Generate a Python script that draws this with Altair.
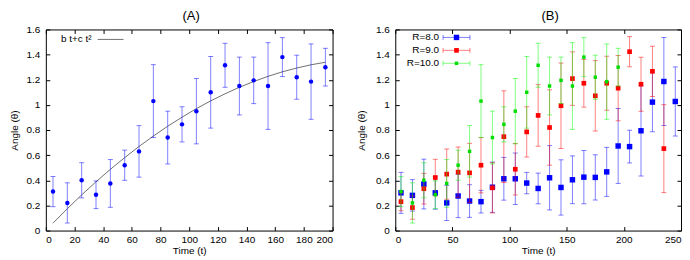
import altair as alt
import pandas as pd

FONT = "Liberation Sans"

# ---------------- data ----------------
times_A = [5, 15, 25, 35, 45, 55, 65, 75, 85, 95, 105, 115, 125, 135, 145, 155, 165, 175, 185, 195]
angle_A = [0.31, 0.22, 0.40, 0.285, 0.375, 0.52, 0.63, 1.03, 0.74, 0.845, 0.95, 1.10, 1.315, 1.15, 1.195, 1.15, 1.38, 1.22, 1.185, 1.30]
err_A = [0.12, 0.16, 0.14, 0.11, 0.19, 0.12, 0.205, 0.29, 0.21, 0.14, 0.26, 0.285, 0.175, 0.23, 0.185, 0.345, 0.155, 0.175, 0.30, 0.15]

fit_label = "b t+c t\u00b2"
fit_t = [5, 15, 25, 35, 45, 55, 65, 75, 85, 95, 105, 115, 125, 135, 145, 155, 165, 175, 185, 195]
fit_v = [0.059, 0.174, 0.284, 0.388, 0.487, 0.580, 0.669, 0.752, 0.830, 0.902, 0.970, 1.032, 1.088, 1.140, 1.186, 1.227, 1.263, 1.293, 1.319, 1.339]

times_R8 = [5, 15, 25, 35, 45, 55, 65, 75, 85, 95, 105, 115, 125, 135, 145, 155, 165, 175, 185, 195, 205, 215, 225, 235, 245]
angle_R8 = [0.30, 0.28, 0.37, 0.30, 0.22, 0.275, 0.235, 0.23, 0.345, 0.412, 0.412, 0.378, 0.335, 0.42, 0.343, 0.404, 0.425, 0.423, 0.467, 0.673, 0.668, 0.794, 1.022, 1.186, 1.027]
err_R8 = [0.163, 0.125, 0.198, 0.13, 0.14, 0.172, 0.13, 0.09, 0.2, 0.17, 0.205, 0.085, 0.122, 0.256, 0.22, 0.19, 0.212, 0.18, 0.195, 0.298, 0.13, 0.36, 0.235, 0.35, 0.275]

times_R9 = [5, 15, 25, 35, 45, 55, 65, 75, 85, 95, 105, 115, 125, 135, 145, 155, 165, 175, 185, 195, 205, 215, 225, 235]
angle_R9 = [0.23, 0.183, 0.333, 0.422, 0.449, 0.465, 0.459, 0.52, 0.34, 0.747, 0.488, 0.785, 0.916, 0.82, 0.993, 1.209, 1.172, 1.072, 1.172, 1.133, 1.423, 1.164, 1.267, 0.652]
err_R9 = [0.073, 0.093, 0.122, 0.145, 0.2, 0.2, 0.235, 0.22, 0.2, 0.365, 0.205, 0.2, 0.245, 0.3, 0.34, 0.213, 0.19, 0.28, 0.215, 0.26, 0.12, 0.215, 0.2, 0.35]

times_R10 = times_A
angle_R10 = angle_A
err_R10 = err_A

series_labels = ["R=8.0", "R=9.0", "R=10.0"]
series_colors = ["#0000ff", "#ff0000", "#00ff00"]
marker_colors = ["#0000ff", "#ff0000", "#00dd00"]

y_ticks = [0, 0.2, 0.4, 0.6, 0.8, 1.0, 1.2, 1.4, 1.6]
x_ticks_A = [0, 20, 40, 60, 80, 100, 120, 140, 160, 180, 200]
x_ticks_B = [0, 50, 100, 150, 200, 250]

# ---------------- layout ----------------
WA, WB, H = 288, 287, 202


def frame(t, v, e):
    return pd.DataFrame({"t": t, "v": v,
                         "lo": [a - b for a, b in zip(v, e)],
                         "hi": [a + b for a, b in zip(v, e)]})


def axes(width, xmax, xticks, title_pad_y):
    xax = alt.Axis(values=xticks, gridDash=[4, H - 8, 4, 400], labelPadding=4,
                   titlePadding=1)
    yax = alt.Axis(values=y_ticks, format="~g", gridDash=[4, width - 8, 4, 400],
                   labelPadding=6, titlePadding=title_pad_y)
    xs = alt.Scale(domain=[0, xmax], nice=False, zero=False)
    ys = alt.Scale(domain=[0, 1.6], nice=False, zero=False)
    return xax, yax, xs, ys


def series_layers(df, color, mcolor, shape, msize, X, Y):
    base = alt.Chart(df)
    bars = base.mark_rule(color=color, opacity=0.5, strokeWidth=1).encode(
        x=X("t"), y=Y("lo"), y2="hi:Q")
    cap_lo = base.mark_tick(color=color, opacity=0.5, orient="horizontal",
                            size=5, thickness=1).encode(x=X("t"), y=Y("lo"))
    cap_hi = base.mark_tick(color=color, opacity=0.5, orient="horizontal",
                            size=5, thickness=1).encode(x=X("t"), y=Y("hi"))
    pts = base.mark_point(shape=shape, filled=True, size=msize, color=mcolor,
                          opacity=1, strokeWidth=0).encode(x=X("t"), y=Y("v"))
    return [bars, cap_lo, cap_hi, pts]


def make_XY(xax, yax, xs, ys):
    def X(f):
        return alt.X(f + ":Q", scale=xs, axis=xax, title="Time (t)")

    def Y(f):
        return alt.Y(f + ":Q", scale=ys, axis=yax, title="Angle (\u03b8)")
    return X, Y


# ---------------- panel A ----------------
xax, yax, xs, ys = axes(WA, 200, x_ticks_A, 7)
X, Y = make_XY(xax, yax, xs, ys)

dfA = frame(times_A, angle_A, err_A)
fit_df = pd.DataFrame({"t": fit_t, "v": fit_v})

layersA = []
layersA.append(alt.Chart(fit_df).mark_line(color="#707070", strokeWidth=1).encode(
    x=X("t"), y=Y("v")))
layersA += series_layers(dfA, "#0000ff", "#0000ff", "circle", 20, X, Y)

legA = alt.Chart(pd.DataFrame({"label": [fit_label]}))
layersA.append(legA.mark_text(align="right", baseline="middle", font=FONT,
                              fontSize=10, color="black").encode(
    x=alt.value(46), y=alt.value(10), text="label:N"))
layersA.append(legA.mark_rule(color="#707070", strokeWidth=1).encode(
    x=alt.value(52), x2=alt.value(78), y=alt.value(10)))

panelA = alt.layer(*layersA).properties(
    width=WA, height=H,
    title=alt.TitleParams("(A)", dx=2))

# ---------------- panel B ----------------
xax, yax, xs, ys = axes(WB, 250, x_ticks_B, 9)
X, Y = make_XY(xax, yax, xs, ys)

dfs = [frame(times_R8, angle_R8, err_R8),
       frame(times_R9, angle_R9, err_R9),
       frame(times_R10, angle_R10, err_R10)]
sizes = [30, 22, 12]

layersB = []
for i in range(3):
    layersB += series_layers(dfs[i], series_colors[i], marker_colors[i], "square",
                             sizes[i], X, Y)

for i in range(3):
    ly = 8 + 13 * i
    leg = alt.Chart(pd.DataFrame({"label": [series_labels[i]]}))
    layersB.append(leg.mark_text(align="right", baseline="middle", font=FONT,
                                 fontSize=10, color="black").encode(
        x=alt.value(44), y=alt.value(ly), text="label:N"))
    layersB.append(leg.mark_rule(color=series_colors[i], opacity=0.5, strokeWidth=1).encode(
        x=alt.value(48), x2=alt.value(75), y=alt.value(ly)))
    for cx in (48, 75):
        layersB.append(leg.mark_rule(color=series_colors[i], opacity=0.5, strokeWidth=1).encode(
            x=alt.value(cx), y=alt.value(ly - 2.5), y2=alt.value(ly + 2.5)))
    layersB.append(leg.mark_point(shape="square", filled=True, size=sizes[i],
                                  color=marker_colors[i], opacity=1, strokeWidth=0).encode(
        x=alt.value(61.5), y=alt.value(ly)))

panelB = alt.layer(*layersB).properties(
    width=WB, height=H,
    title=alt.TitleParams("(B)", dx=12))

chart = alt.hconcat(panelA, panelB, spacing=63, bounds="flush", padding=0).configure(
    background="white"
).configure_view(
    stroke="black", strokeWidth=1
).configure_axis(
    labelFont=FONT, labelFontSize=10, labelColor="black",
    titleFont=FONT, titleFontSize=10, titleFontWeight="normal", titleColor="black",
    domain=False, ticks=False, grid=True, gridColor="black", gridOpacity=1, gridWidth=1
).configure_title(
    font=FONT, fontSize=13, fontWeight="normal", color="black", anchor="middle", offset=2
)

chart.save("out.html", embed_options={"renderer": "svg", "actions": False})
